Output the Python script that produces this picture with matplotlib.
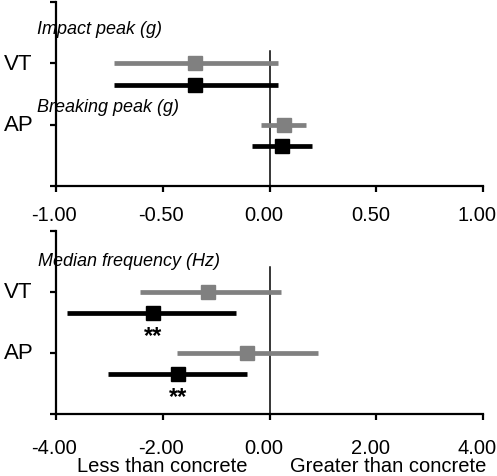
import matplotlib
matplotlib.use("Agg")
import matplotlib.pyplot as plt
import matplotlib.transforms as mtransforms

plt.rcParams['font.family'] = ['Liberation Sans', 'DejaVu Sans']

# rows: VT, AP  (category positions 1 and 2)
rows = ["VT", "AP"]
row_pos = [1, 2]

# top panel: impact / breaking peak (g)
peak_grey_est = [-0.35, 0.07]
peak_grey_lo = [-0.73, -0.04]
peak_grey_hi = [0.04, 0.17]
peak_black_est = [-0.35, 0.06]
peak_black_lo = [-0.73, -0.08]
peak_black_hi = [0.04, 0.20]

# bottom panel: median frequency (Hz)
freq_grey_est = [-1.16, -0.43]
freq_grey_lo = [-2.43, -1.74]
freq_grey_hi = [0.21, 0.90]
freq_black_est = [-2.19, -1.72]
freq_black_lo = [-3.80, -3.03]
freq_black_hi = [-0.62, -0.43]
freq_black_sig = ["**", "**"]

top_ticks = [-1.0, -0.5, 0.0, 0.5, 1.0]
bottom_ticks = [-4.0, -2.0, 0.0, 2.0, 4.0]
top_zero_span = [0.8, 3.0]
bottom_zero_span = [0.59, 3.0]

GREY = "#808080"
OFFSET = 0.35


def draw_panel(ax, ge, gl, gh, be, bl, bh, ticks, zero_span, pad):
    ax.plot([0, 0], zero_span, color="black", lw=1.1, zorder=1)
    ax.errorbar(ge, row_pos,
                xerr=[[e - l for e, l in zip(ge, gl)], [h - e for e, h in zip(ge, gh)]],
                fmt="s", color=GREY, ecolor=GREY, elinewidth=3.4, capsize=0,
                markersize=9.5, zorder=3)
    bpos = [p + OFFSET for p in row_pos]
    ax.errorbar(be, bpos,
                xerr=[[e - l for e, l in zip(be, bl)], [h - e for e, h in zip(be, bh)]],
                fmt="s", color="black", ecolor="black", elinewidth=3.4, capsize=0,
                markersize=9.5, zorder=3)
    ax.set_xlim(ticks[0], ticks[-1])
    ax.set_ylim(3, 0)
    ax.set_xticks(ticks)
    ax.set_xticklabels([f"{t:.2f}" for t in ticks])
    ax.set_yticks([0, 1, 2, 3])
    ax.set_yticklabels([])
    for s in ["top", "right"]:
        ax.spines[s].set_visible(False)
    for s in ["left", "bottom"]:
        ax.spines[s].set_linewidth(1.6)
    ax.tick_params(axis="both", direction="out", length=4, width=1.6,
                   labelsize=14.5)
    ax.tick_params(axis="x", pad=pad)
    ax.set_facecolor("none")
    # Excel-like label placement: non-negative labels sit a little left
    for t, lab in zip(ticks, ax.get_xticklabels()):
        dx = -6 if t >= 0 else -2
        lab.set_transform(lab.get_transform() +
                          mtransforms.ScaledTranslation(dx / 100, 0, fig.dpi_scale_trans))
    trans = mtransforms.blended_transform_factory(fig.transFigure, ax.transData)
    for name, p in zip(rows, row_pos):
        ax.text(4 / 497, p, name, transform=trans, ha="left", va="center",
                fontsize=16)


fig = plt.figure(figsize=(4.97, 4.77), dpi=100)
ax1 = fig.add_axes([56 / 497, 1 - 187 / 477, 427 / 497, 184 / 477])
ax2 = fig.add_axes([56 / 497, 1 - 415 / 477, 427 / 497, 183 / 477])

draw_panel(ax1, peak_grey_est, peak_grey_lo, peak_grey_hi,
           peak_black_est, peak_black_lo, peak_black_hi, top_ticks, top_zero_span, 10)
draw_panel(ax2, freq_grey_est, freq_grey_lo, freq_grey_hi,
           freq_black_est, freq_black_lo, freq_black_hi, bottom_ticks, bottom_zero_span, 13)

for e, p, s in zip(freq_black_est, row_pos, freq_black_sig):
    ax2.text(e, p + OFFSET + 0.37, s, ha="center", va="center", fontsize=17,
             fontweight="bold")

fig.text(37 / 497, 1 - 30 / 477, "Impact peak (g)", style="italic",
         fontsize=13, va="center", ha="left")
fig.text(37 / 497, 1 - 107 / 477, "Breaking peak (g)", style="italic",
         fontsize=13, va="center", ha="left")
fig.text(38 / 497, 1 - 261 / 477, "Median frequency (Hz)", style="italic",
         fontsize=13, va="center", ha="left")

fig.text(162 / 497, 1 - 467 / 477, "Less than concrete", fontsize=14.5,
         ha="center", va="center")
fig.text(388 / 497, 1 - 467 / 477, "Greater than concrete", fontsize=14.5,
         ha="center", va="center")

fig.savefig("out.png", dpi=100)
